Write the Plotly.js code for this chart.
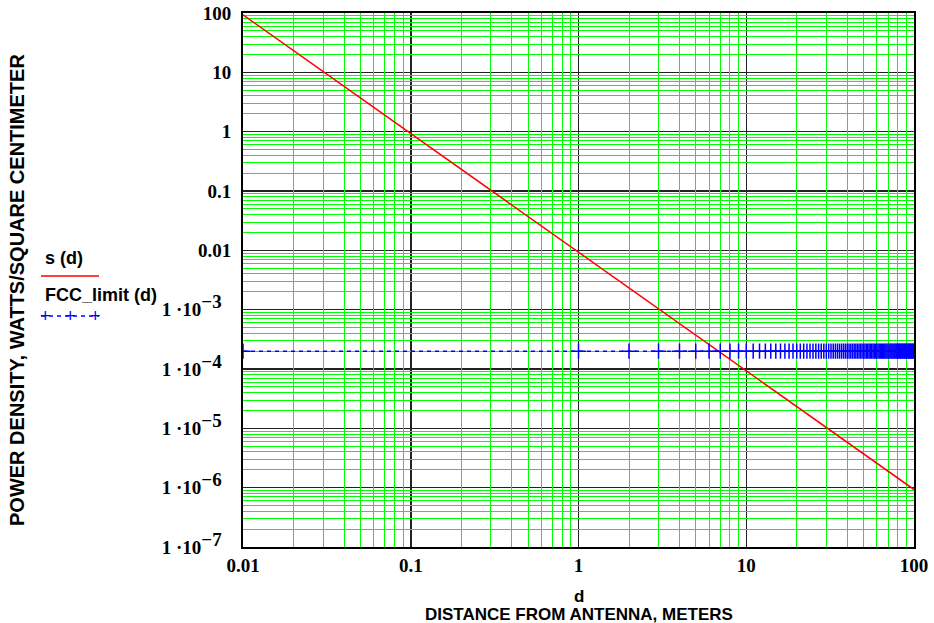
<!DOCTYPE html>
<html>
<head>
<meta charset="utf-8">
<script src="https://cdn.plot.ly/plotly-3.0.1.min.js"></script>
<style>html,body{margin:0;padding:0;background:#fff;}#chart{width:934px;height:623px;}</style>
</head>
<body>
<div id="chart"></div>
<script>
// Distance samples (m) used for FCC limit markers
const dVals = [0.01,1,2,3,4,5,6,7,8,9,10,11,12,13,14,15,16,17,18,19,20,21,22,23,24,25,26,27,28,29,30,
  31,32,33,34,35,36,37,38,39,40,41,42,43,44,45,46,47,48,49,50,51,52,53,54,55,56,57,58,59,60,
  61,62,63,64,65,66,67,68,69,70,71,72,73,74,75,76,77,78,79,80,81,82,83,84,85,86,87,88,89,90,
  91,92,93,94,95,96,97,98,99,100];
// FCC limit, W/cm^2 (constant)
const fccLimit = [2e-4,2e-4,2e-4,2e-4,2e-4,2e-4,2e-4,2e-4,2e-4,2e-4,2e-4,2e-4,2e-4,2e-4,2e-4,2e-4,2e-4,2e-4,2e-4,2e-4,2e-4,
  2e-4,2e-4,2e-4,2e-4,2e-4,2e-4,2e-4,2e-4,2e-4,2e-4,2e-4,2e-4,2e-4,2e-4,2e-4,2e-4,2e-4,2e-4,2e-4,2e-4,
  2e-4,2e-4,2e-4,2e-4,2e-4,2e-4,2e-4,2e-4,2e-4,2e-4,2e-4,2e-4,2e-4,2e-4,2e-4,2e-4,2e-4,2e-4,2e-4,2e-4,
  2e-4,2e-4,2e-4,2e-4,2e-4,2e-4,2e-4,2e-4,2e-4,2e-4,2e-4,2e-4,2e-4,2e-4,2e-4,2e-4,2e-4,2e-4,2e-4,2e-4,
  2e-4,2e-4,2e-4,2e-4,2e-4,2e-4,2e-4,2e-4,2e-4,2e-4,2e-4,2e-4,2e-4,2e-4,2e-4,2e-4,2e-4,2e-4,2e-4,2e-4];
// Power density s(d) points
const sD = [0.01, 0.1, 1, 10, 100];
const sVals = [93, 0.93, 0.0093, 9.3e-5, 9.3e-7];

const xTickVals = [0.01, 0.1, 1, 10, 100];
const xTickText = ['<b>0.01</b>', '<b>0.1</b>', '<b>1</b>', '<b>10</b>', '<b>100</b>'];
const yTickVals = [100, 10, 1, 0.1, 0.01, 1e-3, 1e-4, 1e-5, 1e-6, 1e-7];
const sup = e => '<b>1 ·10<sup><span style="font-size:19px">−' + e + '</span></sup>\u2002</b>';
const yTickText = ['<b>100</b>', '<b>10</b>', '<b>1</b>', '<b>0.1</b>', '<b>0.01</b>',
  sup(3), sup(4), sup(5), sup(6), sup(7)];
// minor grid positions (2..9 within each decade)
const xMinor = [0.02,0.03,0.04,0.05,0.06,0.07,0.08,0.09, 0.2,0.3,0.4,0.5,0.6,0.7,0.8,0.9,
  2,3,4,5,6,7,8,9, 20,30,40,50,60,70,80,90];
const yMinor = [2e-7,3e-7,4e-7,5e-7,6e-7,7e-7,8e-7,9e-7, 2e-6,3e-6,4e-6,5e-6,6e-6,7e-6,8e-6,9e-6,
  2e-5,3e-5,4e-5,5e-5,6e-5,7e-5,8e-5,9e-5, 2e-4,3e-4,4e-4,5e-4,6e-4,7e-4,8e-4,9e-4,
  0.002,0.003,0.004,0.005,0.006,0.007,0.008,0.009, 0.02,0.03,0.04,0.05,0.06,0.07,0.08,0.09,
  0.2,0.3,0.4,0.5,0.6,0.7,0.8,0.9, 2,3,4,5,6,7,8,9, 20,30,40,50,60,70,80,90];

const tickFont = {family: 'Liberation Serif, Times New Roman, serif', size: 19, color: '#000'};
const labFont = {family: 'Liberation Sans, Arial, sans-serif', size: 17, color: '#000'};

const traces = [
  {x: [], y: [], xaxis: 'x2', yaxis: 'y2', type: 'scatter', mode: 'lines', hoverinfo: 'skip', showlegend: false},
  {x: sD, y: sVals, type: 'scatter', mode: 'lines', name: 's(d)',
   line: {color: '#ff0000', width: 1.5}},
  {x: dVals, y: fccLimit, type: 'scatter', mode: 'lines+markers', name: 'FCC_limit(d)',
   line: {color: '#0000ff', width: 1.5, dash: '4px,4px'},
   marker: {symbol: 'cross-thin', size: 11, line: {color: '#0000ff', width: 1.5}}}
];

const W = 671, H = 534, L = 243, T = 13;
const px = v => (v - L) / W;
const py = v => (T + H - v) / H;

const mainAxis = {
  type: 'log', tickmode: 'array', showline: true, mirror: true, linecolor: '#000', linewidth: 2,
  ticks: '', showgrid: true, gridcolor: '#222', gridwidth: 1.5, zeroline: false, tickfont: tickFont
};
const minorAxis = {
  type: 'log', tickmode: 'array', showline: false, ticks: '', showticklabels: false,
  showgrid: true, gridcolor: '#00ff00', gridwidth: 1, zeroline: false
};

const layout = {
  width: 934, height: 623,
  margin: {l: L, r: 934 - L - W, t: T, b: 623 - T - H},
  paper_bgcolor: '#fff', plot_bgcolor: '#fff',
  showlegend: false,
  xaxis: Object.assign({}, mainAxis, {range: [-2, 2], tickvals: xTickVals, ticktext: xTickText, ticklabelstandoff: 0}),
  yaxis: Object.assign({}, mainAxis, {range: [-7, 2], tickvals: yTickVals, ticktext: yTickText, ticklabelstandoff: 6}),
  xaxis2: Object.assign({}, minorAxis, {range: [-2, 2], tickvals: xMinor, overlaying: 'x', anchor: 'y2', side: 'bottom'}),
  yaxis2: Object.assign({}, minorAxis, {range: [-7, 2], tickvals: yMinor, overlaying: 'y', anchor: 'x2', side: 'left'}),
  annotations: [
    {xref: 'paper', yref: 'paper', x: 0.5, y: py(596), text: '<b>d</b>', showarrow: false, font: labFont, xanchor: 'center', yanchor: 'middle'},
    {xref: 'paper', yref: 'paper', x: 0.5, y: py(614), text: '<b>DISTANCE FROM ANTENNA, METERS</b>', showarrow: false, font: labFont, xanchor: 'center', yanchor: 'middle'},
    {xref: 'paper', yref: 'paper', x: px(17), y: py(290), text: '<b>POWER DENSITY, WATTS/SQUARE CENTIMETER</b>', textangle: -90, showarrow: false, font: Object.assign({}, labFont, {size: 20}), xanchor: 'center', yanchor: 'middle'},
    {xref: 'paper', yref: 'paper', x: px(43), y: py(258), text: '<b>s (d)</b>', showarrow: false, font: Object.assign({}, labFont, {size: 18}), xanchor: 'left', yanchor: 'middle'},
    {xref: 'paper', yref: 'paper', x: px(43), y: py(295), text: '<b>FCC_limit (d)</b>', showarrow: false, font: Object.assign({}, labFont, {size: 18}), xanchor: 'left', yanchor: 'middle'},
    {xref: 'paper', yref: 'paper', x: px(46), y: py(316), text: '+', showarrow: false, font: {family: 'Liberation Sans', size: 18, color: '#0000ff'}, xanchor: 'center', yanchor: 'middle'},
    {xref: 'paper', yref: 'paper', x: px(70), y: py(316), text: '+', showarrow: false, font: {family: 'Liberation Sans', size: 18, color: '#0000ff'}, xanchor: 'center', yanchor: 'middle'},
    {xref: 'paper', yref: 'paper', x: px(95), y: py(316), text: '+', showarrow: false, font: {family: 'Liberation Sans', size: 18, color: '#0000ff'}, xanchor: 'center', yanchor: 'middle'}
  ],
  shapes: [
    {type: 'line', xref: 'paper', yref: 'paper', x0: px(41), x1: px(99), y0: py(276), y1: py(276), line: {color: '#ff0000', width: 1.5}},
    {type: 'line', xref: 'paper', yref: 'paper', x0: px(41), x1: px(99), y0: py(316), y1: py(316), line: {color: '#0000ff', width: 1.5, dash: '4px,4px'}}
  ]
};

Plotly.newPlot('chart', traces, layout, {displayModeBar: false, staticPlot: true});
</script>
</body>
</html>
